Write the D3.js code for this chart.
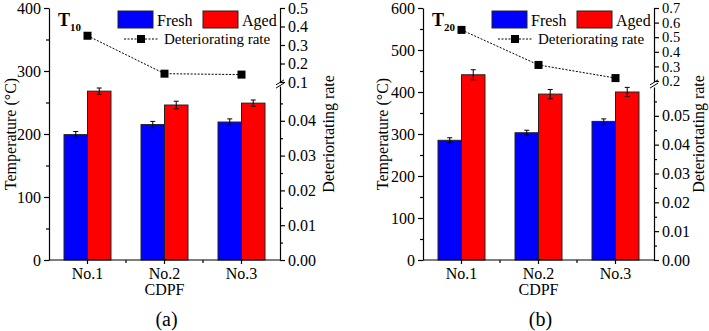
<!DOCTYPE html>
<html>
<head>
<meta charset="utf-8">
<script src="https://cdn.jsdelivr.net/npm/d3@7"></script>
<style>
body { margin: 0; background: #fff; }
.axis path, .axis line { stroke: #000; stroke-width: 1.2; }
.axis text { font-size: 16px; }
</style>
</head>
<body>
<svg id="chart" width="709" height="331"></svg>
<script>
// categories + series
const categories = ["No.1", "No.2", "No.3"];

const freshT10 = [199, 215, 219];
const agedT10 = [268, 246, 249];
const freshErrT10 = [5, 5, 5];
const agedErrT10 = [5, 6, 5];
const rateT10 = [0.35, 0.145, 0.14];

const freshT20 = [285, 303, 330];
const agedT20 = [441, 395, 400];
const freshErrT20 = [6, 6, 6];
const agedErrT20 = [12, 11, 11];
const rateT20 = [0.55, 0.31, 0.22];

// tick labels
const tempTicksT10 = [0, 100, 200, 300, 400];
const tempMinorT10 = [50, 150, 250, 350];
const lowTicksT10 = [0, 0.01, 0.02, 0.03, 0.04];
const lowMinorT10 = [0.005, 0.015, 0.025, 0.035, 0.045];
const upTicksT10 = [0.1, 0.2, 0.3, 0.4, 0.5];

const tempTicksT20 = [0, 100, 200, 300, 400, 500, 600];
const tempMinorT20 = [50, 150, 250, 350, 450, 550];
const lowTicksT20 = [0, 0.01, 0.02, 0.03, 0.04, 0.05];
const lowMinorT20 = [0.005, 0.015, 0.025, 0.035, 0.045, 0.055];
const upTicksT20 = [0.2, 0.3, 0.4, 0.5, 0.6, 0.7];

const serif = '"Liberation Serif", "Times New Roman", "DejaVu Serif", serif';
const svg = d3.select("#chart");
const plotTop = 8, plotBottom = 260;

function drawPanel(p) {
    const g = svg.append("g");

    const x = d3.scaleBand().domain(categories)
        .range([p.left, p.right]).paddingInner(0.39).paddingOuter(0.195);
    const xs = d3.scaleBand().domain(["Fresh", "Aged"]).range([0, x.bandwidth()]);
    const y = d3.scaleLinear().domain([0, p.tempMax]).range([plotBottom, plotTop]);
    const rLow = d3.scaleLinear().domain(p.lowDomain).range([plotBottom, p.lowTop]);
    const rUp = d3.scaleLinear().domain(p.upDomain).range([p.upBottom, plotTop]);

    const series = [
        {name: "Fresh", vals: p.fresh, errs: p.freshErr, color: "#0000ff"},
        {name: "Aged", vals: p.aged, errs: p.agedErr, color: "#ff0000"}
    ];

    // bars
    series.forEach(s => {
        g.selectAll(null).data(categories).enter().append("rect")
            .attr("x", c => x(c) + xs(s.name))
            .attr("y", (c, i) => y(s.vals[i]))
            .attr("width", xs.bandwidth())
            .attr("height", (c, i) => plotBottom - y(s.vals[i]))
            .style("fill", s.color)
            .style("stroke", "#222")
            .style("stroke-width", 1);
    });

    // error bars
    series.forEach(s => {
        categories.forEach((c, i) => {
            let cx = x(c) + xs(s.name) + xs.bandwidth() / 2;
            let y1 = y(s.vals[i] + s.errs[i]), y2 = y(s.vals[i] - s.errs[i]);
            g.append("line").attr("x1", cx).attr("x2", cx).attr("y1", y1).attr("y2", y2)
                .style("stroke", "#000").style("stroke-width", 1);
            [y1, y2].forEach(yy => {
                g.append("line").attr("x1", cx - 2.5).attr("x2", cx + 2.5).attr("y1", yy).attr("y2", yy)
                    .style("stroke", "#000").style("stroke-width", 1);
            });
        });
    });

    // deteriorating rate line + markers
    const cxOf = c => x(c) + x.bandwidth() / 2;
    const line = d3.line().x((d, i) => cxOf(categories[i])).y(d => rUp(d));
    g.append("path").datum(p.rate).attr("d", line)
        .style("fill", "none").style("stroke", "#000").style("stroke-width", 1)
        .style("stroke-dasharray", "2,1.5");
    g.selectAll(null).data(p.rate).enter().append("rect")
        .attr("x", (d, i) => cxOf(categories[i]) - 4)
        .attr("y", d => rUp(d) - 4)
        .attr("width", 8).attr("height", 8)
        .style("fill", "#000");

    // x axis
    g.append("line").attr("x1", p.left).attr("x2", p.right)
        .attr("y1", plotBottom).attr("y2", plotBottom)
        .style("stroke", "#000").style("stroke-width", 1.2);
    categories.forEach((c, i) => {
        g.append("line").attr("x1", cxOf(c)).attr("x2", cxOf(c))
            .attr("y1", plotBottom).attr("y2", plotBottom + 4)
            .style("stroke", "#000").style("stroke-width", 1.2);
        if (i < categories.length - 1) {
            let mx = cxOf(c) + x.step() / 2;
            g.append("line").attr("x1", mx).attr("x2", mx)
                .attr("y1", plotBottom).attr("y2", plotBottom + 3)
                .style("stroke", "#000").style("stroke-width", 1.2);
        }
        g.append("text").attr("x", cxOf(c)).attr("y", 279)
            .attr("text-anchor", "middle").style("font-size", "16px").text(c);
    });
    g.append("text").attr("x", cxOf(categories[1])).attr("y", 295)
        .attr("text-anchor", "middle").style("font-size", "16px").text("CDPF");
    g.append("text").attr("x", cxOf(categories[1]) + 2).attr("y", 326)
        .attr("text-anchor", "middle").style("font-size", "20px").text(p.letter);

    // left axis
    g.append("g").attr("class", "axis").attr("transform", `translate(${p.left},0)`)
        .call(d3.axisLeft(y).tickValues(p.tempTicks).tickSize(5).tickSizeOuter(0).tickPadding(3));
    g.append("g").attr("class", "axis").attr("transform", `translate(${p.left},0)`)
        .call(d3.axisLeft(y).tickValues(p.tempMinor).tickSize(3).tickFormat(""))
        .select(".domain").remove();

    // right broken axis
    g.append("g").attr("class", "axis").attr("transform", `translate(${p.right},0)`)
        .call(d3.axisRight(rLow).tickValues(p.lowTicks).tickSize(5).tickSizeOuter(0)
            .tickPadding(3).tickFormat(d3.format(".2f")));
    g.append("g").attr("class", "axis").attr("transform", `translate(${p.right},0)`)
        .call(d3.axisRight(rLow).tickValues(p.lowMinor).tickSize(3).tickFormat(""))
        .select(".domain").remove();
    g.append("g").attr("class", "axis upper").attr("transform", `translate(${p.right},0)`)
        .call(d3.axisRight(rUp).tickValues(p.upTicks).tickSize(5).tickSizeOuter(0)
            .tickPadding(3).tickFormat(d3.format(".1f")))
        .selectAll("text").style("font-size", p.upFont);

    // break marks
    let ym = (p.lowTop + p.upBottom) / 2;
    [-1.6, 1.6].forEach(d => {
        g.append("line").attr("x1", p.right - 4).attr("x2", p.right + 4)
            .attr("y1", ym + d + 2.5).attr("y2", ym + d - 2.5)
            .style("stroke", "#000").style("stroke-width", 1);
    });

    // axis titles
    g.append("text")
        .attr("transform", `translate(${p.left - p.titleOffset},${(plotTop + plotBottom) / 2}) rotate(-90)`)
        .attr("text-anchor", "middle").attr("dy", "0.35em")
        .style("font-size", "16px").text("Temperature (°C)");
    g.append("text")
        .attr("transform", `translate(${p.right + p.rightTitleOffset},${(plotTop + plotBottom) / 2}) rotate(-90)`)
        .attr("text-anchor", "middle").attr("dy", "0.35em")
        .style("font-size", "16px").text("Deteriortating rate");

    // T label
    let t = g.append("text").attr("x", p.left + 9).attr("y", 26)
        .style("font-size", "18px").style("font-weight", "bold");
    t.append("tspan").text("T");
    t.append("tspan").attr("dy", 5).style("font-size", "11px").text(p.sub);

    // legend
    g.append("rect").attr("x", p.left + 69).attr("y", 11).attr("width", 35).attr("height", 17)
        .style("fill", "#0000ff").style("stroke", "#222").style("stroke-width", 1);
    g.append("text").attr("x", p.left + 108).attr("y", 26).style("font-size", "16px").text("Fresh");
    g.append("rect").attr("x", p.left + 154).attr("y", 11).attr("width", 35).attr("height", 17)
        .style("fill", "#ff0000").style("stroke", "#222").style("stroke-width", 1);
    g.append("text").attr("x", p.left + 193).attr("y", 26).style("font-size", "16px").text("Aged");
    g.append("line").attr("x1", p.left + 75).attr("x2", p.left + 109).attr("y1", 39).attr("y2", 39)
        .style("stroke", "#000").style("stroke-width", 1).style("stroke-dasharray", "2,1.5");
    g.append("rect").attr("x", p.left + 88).attr("y", 35).attr("width", 8).attr("height", 8)
        .style("fill", "#000");
    g.append("text").attr("x", p.left + 115).attr("y", 44).style("font-size", "15px").text("Deteriorating rate");
}

drawPanel({
    left: 49, right: 280, tempMax: 400,
    tempTicks: tempTicksT10, tempMinor: tempMinorT10,
    lowDomain: [0, 0.05], lowTop: 86, lowTicks: lowTicksT10, lowMinor: lowMinorT10,
    upDomain: [0.1, 0.5], upBottom: 82, upTicks: upTicksT10, upFont: "16px",
    fresh: freshT10, aged: agedT10, freshErr: freshErrT10, agedErr: agedErrT10,
    rate: rateT10, sub: "10", letter: "(a)", titleOffset: 39, rightTitleOffset: 48
});

drawPanel({
    left: 423, right: 654, tempMax: 600,
    tempTicks: tempTicksT20, tempMinor: tempMinorT20,
    lowDomain: [0, 0.06], lowTop: 87, lowTicks: lowTicksT20, lowMinor: lowMinorT20,
    upDomain: [0.2, 0.7], upBottom: 81, upTicks: upTicksT20, upFont: "14.5px",
    fresh: freshT20, aged: agedT20, freshErr: freshErrT20, agedErr: agedErrT20,
    rate: rateT20, sub: "20", letter: "(b)", titleOffset: 41, rightTitleOffset: 44
});

// everything in the Times-like face
svg.selectAll("text").style("font-family", serif).style("fill", "#000");
</script>
</body>
</html>
